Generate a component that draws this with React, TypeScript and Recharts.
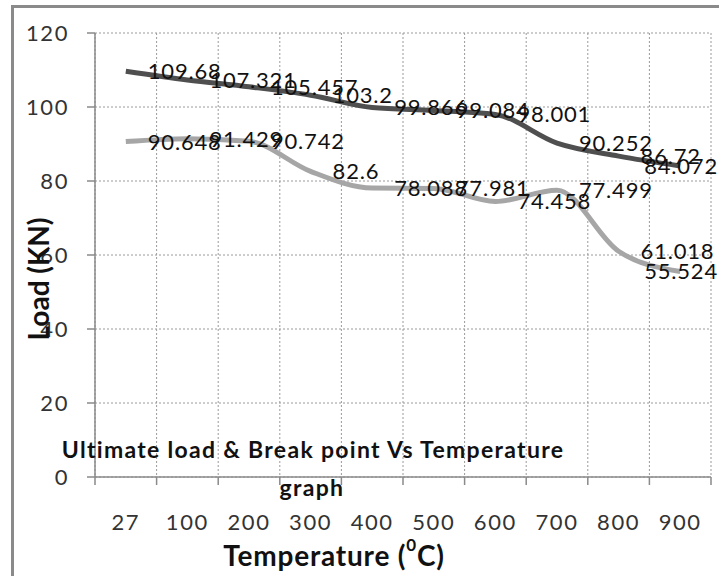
import { LineChart, Line, XAxis, YAxis, CartesianGrid, LabelList } from 'recharts';

const categories = ['27', '100', '200', '300', '400', '500', '600', '700', '800', '900'];
const ultimateLoad = [109.68, 107.321, 105.457, 103.2, 99.866, 99.084, 98.001, 90.252, 86.72, 84.072];
const breakPoint = [90.648, 91.429, 90.742, 82.6, 78.088, 77.981, 74.458, 77.499, 61.018, 55.524];
const yTicks = [0, 20, 40, 60, 80, 100, 120];

const data = categories.map((cat, i) => ({
  pos: i + 0.5,
  cat,
  ultimate: ultimateLoad[i],
  brk: breakPoint[i],
}));
const gridTicks = [...categories.map((_, i) => i), categories.length];
const labelTicks = data.map(d => d.pos);

const FONT = 'Lato, "Open Sans", sans-serif';
const W = 719;
const H = 576;

// Excel-style "right" data label, pulled back inside when it would run off the chart
const renderLabel = (props: any) => {
  const { x, y, value } = props;
  const txt = String(value);
  const w = txt.length * 12.2;
  const overflow = x + 22 + w > W - 1;
  return (
    <text
      x={overflow ? W - 1 : x + 22}
      y={y}
      dy="0.36em"
      textAnchor={overflow ? 'end' : 'start'}
      fontSize={22}
      letterSpacing={0.8}
      fontFamily={FONT}
      fill="#111"
    >
      {txt}
    </text>
  );
};

const tickStyle = { fill: '#333', fontSize: 22, fontFamily: FONT, letterSpacing: 1.6 };

export default function App() {
  return (
    <div style={{ position: 'absolute', left: 0, top: 0, width: W, height: H, overflow: 'hidden', background: '#fff' }}>
      <div style={{ position: 'absolute', left: 11, top: 5, width: 760, height: 620, border: '3px solid #8a8a8a' }} />
      <LineChart
        width={W}
        height={H}
        data={data}
        margin={{ top: 33, right: 8, bottom: 0, left: 0 }}
        style={{ position: 'absolute', left: 0, top: 0 }}
      >
        <CartesianGrid xAxisId="grid" stroke="#9a9a9a" strokeDasharray="2 2" />
        <XAxis
          xAxisId="grid"
          type="number"
          dataKey="pos"
          domain={[0, categories.length]}
          ticks={gridTicks}
          tickFormatter={() => ''}
          tickSize={8}
          height={10}
          stroke="#8a8a8a"
          strokeWidth={1.5}
          interval={0}
        />
        <XAxis
          xAxisId="lab"
          type="number"
          dataKey="pos"
          domain={[0, categories.length]}
          ticks={labelTicks}
          tickFormatter={(v: number) => categories[Math.floor(v)]}
          axisLine={false}
          tickLine={false}
          tickSize={0}
          tickMargin={27}
          height={89}
          interval={0}
          tick={tickStyle}
        />
        <YAxis
          domain={[0, 120]}
          ticks={yTicks}
          width={95}
          tickSize={8}
          tickMargin={18}
          stroke="#8a8a8a"
          strokeWidth={1.5}
          interval={0}
          tick={tickStyle}
        />
        <Line
          xAxisId="grid"
          type="monotone"
          dataKey="ultimate"
          stroke="#4f4f4f"
          strokeWidth={5}
          dot={false}
          isAnimationActive={false}
        >
          <LabelList dataKey="ultimate" content={renderLabel} />
        </Line>
        <Line
          xAxisId="grid"
          type="monotone"
          dataKey="brk"
          stroke="#a6a6a6"
          strokeWidth={5}
          dot={false}
          isAnimationActive={false}
        >
          <LabelList dataKey="brk" content={renderLabel} />
        </Line>
      </LineChart>
      <svg width={W} height={H} style={{ position: 'absolute', left: 0, top: 0, pointerEvents: 'none' }}>
        <text
          transform="translate(38, 279) rotate(-90)"
          textAnchor="middle"
          dominantBaseline="central"
          fontSize={28}
          fontWeight="bold"
          fontFamily={FONT}
          fill="#111"
        >
          Load (KN)
        </text>
        <text x={313} y={449} textAnchor="middle" dominantBaseline="central" fontSize={23} letterSpacing={1.3} fontWeight="bold" fontFamily={FONT} fill="#111">
          Ultimate load &amp; Break point Vs Temperature
        </text>
        <text x={312} y={487} textAnchor="middle" dominantBaseline="central" fontSize={23} letterSpacing={1.3} fontWeight="bold" fontFamily={FONT} fill="#111">
          graph
        </text>
        <text x={334} y={555} textAnchor="middle" dominantBaseline="central" fontSize={28} letterSpacing={0.8} fontWeight="bold" fontFamily={FONT} fill="#111">
          Temperature (<tspan fontSize={17} dy={-11}>0</tspan><tspan dy={11}>C)</tspan>
        </text>
      </svg>
    </div>
  );
}
